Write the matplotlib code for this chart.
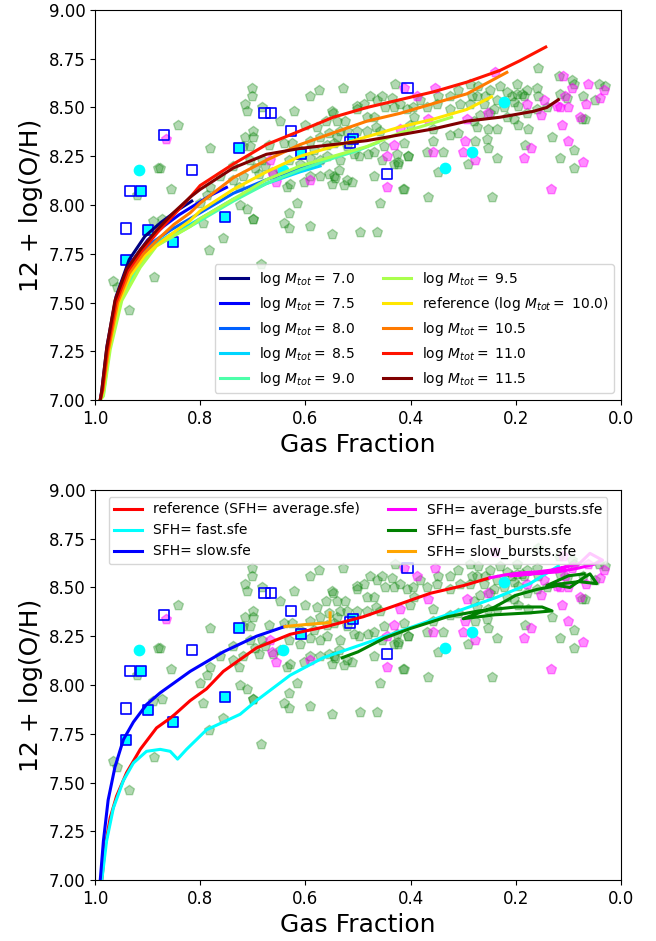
import numpy as np
import matplotlib
matplotlib.use('Agg')
import matplotlib.pyplot as plt

green_x = [0.702, 0.702, 0.714, 0.711, 0.683, 0.591, 0.575, 0.529, 0.429, 0.477, 0.464, 0.502, 0.489,
           0.454, 0.435, 0.550, 0.548, 0.560, 0.540, 0.524, 0.501, 0.483, 0.470, 0.448, 0.432, 0.420,
           0.407, 0.394, 0.401, 0.648, 0.621, 0.600, 0.578, 0.572, 0.556, 0.540, 0.534, 0.521, 0.502,
           0.483, 0.465, 0.458, 0.781, 0.714, 0.699, 0.699, 0.670, 0.641, 0.718, 0.705, 0.705, 0.683,
           0.676, 0.626, 0.610, 0.591, 0.584, 0.559, 0.546, 0.521, 0.508, 0.499, 0.480, 0.470, 0.451,
           0.426, 0.423, 0.404, 0.413, 0.632, 0.610, 0.591, 0.572, 0.559, 0.534, 0.537, 0.546, 0.543,
           0.521, 0.512, 0.527, 0.550, 0.556, 0.572, 0.591, 0.603, 0.629, 0.635, 0.648, 0.661, 0.689,
           0.695, 0.737, 0.718, 0.737, 0.727, 0.762, 0.781, 0.787, 0.724, 0.711, 0.699, 0.616, 0.632,
           0.641, 0.632, 0.592, 0.550, 0.496, 0.464, 0.458, 0.413, 0.470, 0.454, 0.432, 0.423, 0.756,
           0.794, 0.800,
           0.157, 0.117, 0.093, 0.090, 0.041, 0.030, 0.049, 0.073, 0.116, 0.198, 0.230, 0.249, 0.271,
           0.287, 0.258, 0.284, 0.309, 0.325, 0.347, 0.382, 0.395, 0.369, 0.350, 0.325, 0.306, 0.287,
           0.261, 0.236, 0.217, 0.198, 0.179, 0.160, 0.157, 0.185, 0.204, 0.195, 0.223, 0.242, 0.268,
           0.280, 0.274, 0.252, 0.236, 0.249, 0.217, 0.204, 0.195, 0.176, 0.179, 0.160, 0.141, 0.103,
           0.075, 0.068, 0.357, 0.325, 0.309, 0.277, 0.255, 0.357, 0.338, 0.369, 0.404, 0.252, 0.236,
           0.290, 0.347, 0.182, 0.132, 0.116, 0.090, 0.090, 0.414, 0.366, 0.246, 0.208, 0.189, 0.274,
           0.842, 0.880, 0.876, 0.855, 0.921, 0.890, 0.873, 0.965, 0.959, 0.935, 0.888, 0.783, 0.685,
           0.700]
green_y = [8.60, 8.56, 8.52, 8.48, 8.50, 8.56, 8.59, 8.60, 8.62, 8.56, 8.54, 8.51, 8.52,
           8.56, 8.55, 8.48, 8.47, 8.43, 8.43, 8.43, 8.49, 8.45, 8.45, 8.50, 8.50, 8.52,
           8.49, 8.45, 8.41, 8.43, 8.48, 8.41, 8.40, 8.35, 8.37, 8.35, 8.38, 8.38, 8.38,
           8.38, 8.40, 8.38, 8.29, 8.35, 8.38, 8.35, 8.31, 8.32, 8.30, 8.30, 8.23, 8.23,
           8.20, 8.32, 8.28, 8.33, 8.28, 8.31, 8.32, 8.30, 8.26, 8.25, 8.26, 8.27, 8.30,
           8.26, 8.22, 8.25, 8.32, 8.23, 8.21, 8.24, 8.23, 8.25, 8.23, 8.18, 8.15, 8.14,
           8.13, 8.12, 8.10, 8.11, 8.16, 8.15, 8.15, 8.12, 8.11, 8.09, 8.18, 8.16, 8.16,
           8.19, 8.20, 8.15, 8.13, 8.09, 8.15, 8.09, 8.05, 8.00, 7.98, 7.93, 8.01, 7.96,
           7.91, 7.88, 7.89, 7.85, 7.86, 7.86, 8.01, 8.08, 8.15, 8.23, 8.21, 8.21, 7.83,
           7.91, 8.01,
           8.70, 8.66, 8.64, 8.62, 8.62, 8.61, 8.54, 8.56, 8.57, 8.62, 8.61, 8.59, 8.61,
           8.62, 8.56, 8.56, 8.59, 8.56, 8.56, 8.54, 8.50, 8.50, 8.52, 8.49, 8.52, 8.52,
           8.52, 8.54, 8.58, 8.57, 8.59, 8.60, 8.56, 8.56, 8.53, 8.51, 8.50, 8.49, 8.46,
           8.43, 8.40, 8.39, 8.39, 8.47, 8.45, 8.44, 8.41, 8.39, 8.47, 8.49, 8.50, 8.55,
           8.44, 8.44, 8.39, 8.36, 8.37, 8.33, 8.34, 8.33, 8.27, 8.27, 8.25, 8.29, 8.24,
           8.21, 8.17, 8.31, 8.35, 8.24, 8.28, 8.19, 8.08, 8.04, 8.04, 8.56, 8.57, 8.56,
           8.41, 8.19, 8.19, 8.08, 8.05, 7.92, 7.93, 7.61, 7.58, 7.46, 7.63, 7.77, 7.70,
           7.93]

mag_x = [0.865, 0.413, 0.388, 0.420, 0.432, 0.445, 0.445, 0.591, 0.667, 0.664, 0.655,
         0.239, 0.111, 0.062, 0.093, 0.032, 0.040, 0.066, 0.122, 0.106, 0.100, 0.116, 0.147,
         0.179, 0.152, 0.078, 0.113, 0.100, 0.073, 0.171, 0.184, 0.253, 0.293, 0.296, 0.358,
         0.300, 0.277, 0.133, 0.353, 0.366]
mag_y = [8.34, 8.60, 8.56, 8.39, 8.31, 8.25, 8.09, 8.13, 8.23, 8.17, 8.12,
         8.68, 8.66, 8.62, 8.60, 8.59, 8.55, 8.52, 8.51, 8.56, 8.50, 8.50, 8.54,
         8.52, 8.46, 8.45, 8.41, 8.33, 8.22, 8.29, 8.24, 8.47, 8.44, 8.33, 8.27,
         8.27, 8.23, 8.08, 8.60, 8.44]

cyan_x = [0.916, 0.643, 0.223, 0.284, 0.334]
cyan_y = [8.18, 8.18, 8.53, 8.27, 8.19]

sq_open_x = [0.869, 0.933, 0.816, 0.941, 0.678, 0.666, 0.627, 0.406, 0.445, 0.515]
sq_open_y = [8.36, 8.07, 8.18, 7.88, 8.47, 8.47, 8.38, 8.60, 8.16, 8.32]
sq_fill_x = [0.913, 0.726, 0.899, 0.752, 0.851, 0.941, 0.509, 0.609]
sq_fill_y = [8.07, 8.29, 7.87, 7.94, 7.81, 7.72, 8.34, 8.26]

# ---------------- models: total mass ----------------
masses = [7.0, 7.5, 8.0, 8.5, 9.0, 9.5, 10.0, 10.5, 11.0, 11.5]
mass_x = [
    [0.990, 0.987, 0.977, 0.960, 0.935, 0.905, 0.875, 0.845, 0.816],
    [0.990, 0.986, 0.976, 0.958, 0.930, 0.900, 0.870, 0.840, 0.810, 0.780, 0.750],
    [0.990, 0.985, 0.974, 0.954, 0.920, 0.890, 0.857, 0.819, 0.800, 0.737, 0.674, 0.610, 0.566],
    [0.990, 0.985, 0.973, 0.952, 0.918, 0.887, 0.855, 0.819, 0.800, 0.737, 0.674, 0.610, 0.572],
    [0.990, 0.984, 0.972, 0.950, 0.916, 0.885, 0.852, 0.819, 0.800, 0.737, 0.674, 0.610, 0.547,
     0.500, 0.462],
    [0.990, 0.984, 0.971, 0.949, 0.914, 0.883, 0.851, 0.819, 0.800, 0.737, 0.674, 0.610, 0.547,
     0.483, 0.420, 0.370, 0.322],
    [0.990, 0.985, 0.974, 0.955, 0.932, 0.905, 0.875, 0.850, 0.819, 0.800, 0.737, 0.674, 0.610,
     0.547, 0.483, 0.420, 0.357, 0.293, 0.246],
    [0.990, 0.985, 0.975, 0.957, 0.935, 0.908, 0.878, 0.850, 0.819, 0.800, 0.737, 0.674, 0.610,
     0.547, 0.483, 0.420, 0.357, 0.293, 0.217],
    [0.990, 0.986, 0.977, 0.960, 0.938, 0.912, 0.881, 0.850, 0.819, 0.800, 0.737, 0.674, 0.610,
     0.547, 0.483, 0.420, 0.357, 0.293, 0.230, 0.192, 0.143],
    [0.990, 0.987, 0.978, 0.962, 0.940, 0.914, 0.883, 0.851, 0.819, 0.800, 0.737, 0.674, 0.610,
     0.547, 0.483, 0.420, 0.357, 0.293, 0.230, 0.167, 0.141, 0.119],
]
mass_y = [
    [7.00, 7.05, 7.28, 7.53, 7.72, 7.84, 7.91, 7.97, 8.02],
    [7.00, 7.05, 7.28, 7.53, 7.71, 7.82, 7.89, 7.95, 8.00, 8.05, 8.09],
    [7.00, 7.05, 7.29, 7.54, 7.72, 7.81, 7.87, 7.93, 7.96, 8.06, 8.13, 8.19, 8.22],
    [7.00, 7.04, 7.28, 7.53, 7.70, 7.80, 7.85, 7.90, 7.93, 8.03, 8.11, 8.17, 8.20],
    [7.00, 7.03, 7.27, 7.52, 7.69, 7.79, 7.84, 7.89, 7.92, 8.02, 8.11, 8.18, 8.24, 8.28, 8.32],
    [7.00, 7.02, 7.26, 7.51, 7.68, 7.79, 7.84, 7.89, 7.93, 8.03, 8.13, 8.20, 8.25, 8.30, 8.37,
     8.41, 8.45],
    [7.00, 7.05, 7.25, 7.50, 7.64, 7.74, 7.81, 7.86, 7.92, 7.97, 8.08, 8.17, 8.25, 8.30, 8.35,
     8.40, 8.44, 8.49, 8.555],
    [7.00, 7.05, 7.25, 7.50, 7.65, 7.75, 7.83, 7.90, 7.96, 8.01, 8.14, 8.23, 8.31, 8.37, 8.43,
     8.47, 8.52, 8.57, 8.68],
    [7.00, 7.05, 7.25, 7.50, 7.66, 7.76, 7.86, 7.95, 8.04, 8.10, 8.21, 8.31, 8.38, 8.45, 8.50,
     8.54, 8.58, 8.63, 8.69, 8.74, 8.81],
    [7.00, 7.05, 7.26, 7.51, 7.67, 7.77, 7.87, 7.96, 8.04, 8.08, 8.19, 8.26, 8.29, 8.31, 8.33,
     8.36, 8.39, 8.43, 8.45, 8.48, 8.50, 8.54],
]

# ---------------- models: star formation histories ----------------
sfh_labels = ['reference (SFH= average.sfe)', 'SFH= fast.sfe', 'SFH= slow.sfe',
              'SFH= average_bursts.sfe', 'SFH= fast_bursts.sfe', 'SFH= slow_bursts.sfe']
sfh_colors = ['red', 'cyan', 'blue', 'magenta', 'green', 'orange']
sfh_x = [
    [0.987, 0.981, 0.971, 0.959, 0.940, 0.914, 0.883, 0.857, 0.848, 0.819, 0.788, 0.756, 0.693,
     0.629, 0.560, 0.490, 0.426, 0.363, 0.299, 0.249],
    [0.987, 0.978, 0.965, 0.946, 0.927, 0.902, 0.876, 0.857, 0.843, 0.826, 0.788, 0.724, 0.693,
     0.629, 0.566, 0.490, 0.426, 0.363, 0.299, 0.236, 0.173, 0.119],
    [0.990, 0.984, 0.975, 0.962, 0.946, 0.927, 0.902, 0.876, 0.850, 0.819, 0.756, 0.693, 0.639],
    [0.249, 0.220, 0.190, 0.160, 0.130, 0.100, 0.080, 0.059, 0.035, 0.050, 0.080, 0.120, 0.170,
     0.210, 0.150, 0.110, 0.090],
    [0.530, 0.500, 0.450, 0.400, 0.330, 0.270, 0.200, 0.150, 0.131, 0.173, 0.240, 0.300, 0.240,
     0.200, 0.160, 0.120, 0.097, 0.071, 0.059, 0.046, 0.080, 0.141, 0.100, 0.070],
    [0.639, 0.600, 0.553, 0.553],
]
sfh_y = [
    [7.00, 7.17, 7.32, 7.43, 7.55, 7.67, 7.78, 7.83, 7.85, 7.92, 7.98, 8.07, 8.19,
     8.26, 8.30, 8.35, 8.41, 8.47, 8.51, 8.55],
    [7.00, 7.20, 7.37, 7.51, 7.60, 7.66, 7.67, 7.66, 7.62, 7.67, 7.77, 7.85, 7.92,
     8.05, 8.14, 8.21, 8.27, 8.33, 8.39, 8.45, 8.52, 8.61],
    [7.00, 7.20, 7.41, 7.58, 7.72, 7.81, 7.90, 7.96, 8.01, 8.07, 8.17, 8.25, 8.30],
    [8.55, 8.565, 8.575, 8.58, 8.59, 8.61, 8.62, 8.675, 8.64, 8.62, 8.60, 8.58, 8.57,
     8.56, 8.575, 8.60, 8.62],
    [8.14, 8.17, 8.24, 8.29, 8.35, 8.38, 8.40, 8.40, 8.38, 8.37, 8.36, 8.34, 8.40,
     8.46, 8.49, 8.51, 8.50, 8.55, 8.57, 8.52, 8.53, 8.51, 8.56, 8.57],
    [8.30, 8.31, 8.32, 8.37],
]


def draw_obs(ax):
    ax.scatter(green_x, green_y, marker='p', s=55, color='green', alpha=0.3, zorder=1)
    ax.scatter(mag_x, mag_y, marker='p', s=55, color='magenta', alpha=0.45, zorder=1)
    ax.scatter(sq_fill_x, sq_fill_y, marker='s', s=55, facecolor='cyan', edgecolor='blue',
               linewidth=1.2, zorder=1)
    ax.scatter(sq_open_x, sq_open_y, marker='s', s=55, facecolor='none', edgecolor='blue',
               linewidth=1.2, zorder=1)
    ax.scatter(cyan_x, cyan_y, marker='o', s=55, color='cyan', zorder=1)


def style_axes(ax):
    ax.set_xlim(1.0, 0.0)
    ax.set_ylim(7.0, 9.0)
    ax.set_yticks(np.arange(7.0, 9.01, 0.25))
    ax.set_yticklabels(['%.2f' % v for v in np.arange(7.0, 9.01, 0.25)])
    ax.set_xticks([1.0, 0.8, 0.6, 0.4, 0.2, 0.0])
    ax.tick_params(labelsize=12)
    ax.set_xlabel('Gas Fraction', fontsize=18)
    ax.set_ylabel('12 + log(O/H)', fontsize=18)


fig = plt.figure(figsize=(6.56, 9.41), dpi=100)
ax1 = fig.add_axes([0.1448, 0.5749, 0.8018, 0.4145])
ax2 = fig.add_axes([0.1448, 0.0648, 0.8018, 0.4145])

# top panel: different total masses
draw_obs(ax1)
cmap = plt.get_cmap('jet')
for i, m in enumerate(masses):
    if m == 10.0:
        lab = r'reference (log $M_{tot} =$ %.1f)' % m
    else:
        lab = r'log $M_{tot} =$ %.1f' % m
    ax1.plot(mass_x[i], mass_y[i], color=cmap(i / (len(masses) - 1)), lw=2.2, label=lab, zorder=3)
ax1.legend(loc='lower right', ncol=2, fontsize=10)
style_axes(ax1)

# bottom panel: different star formation histories
draw_obs(ax2)
for i in range(len(sfh_labels)):
    ax2.plot(sfh_x[i], sfh_y[i], color=sfh_colors[i], lw=2.2, label=sfh_labels[i], zorder=3)
ax2.legend(loc='upper center', ncol=2, fontsize=10)
style_axes(ax2)

fig.savefig('out.png', dpi=100)
